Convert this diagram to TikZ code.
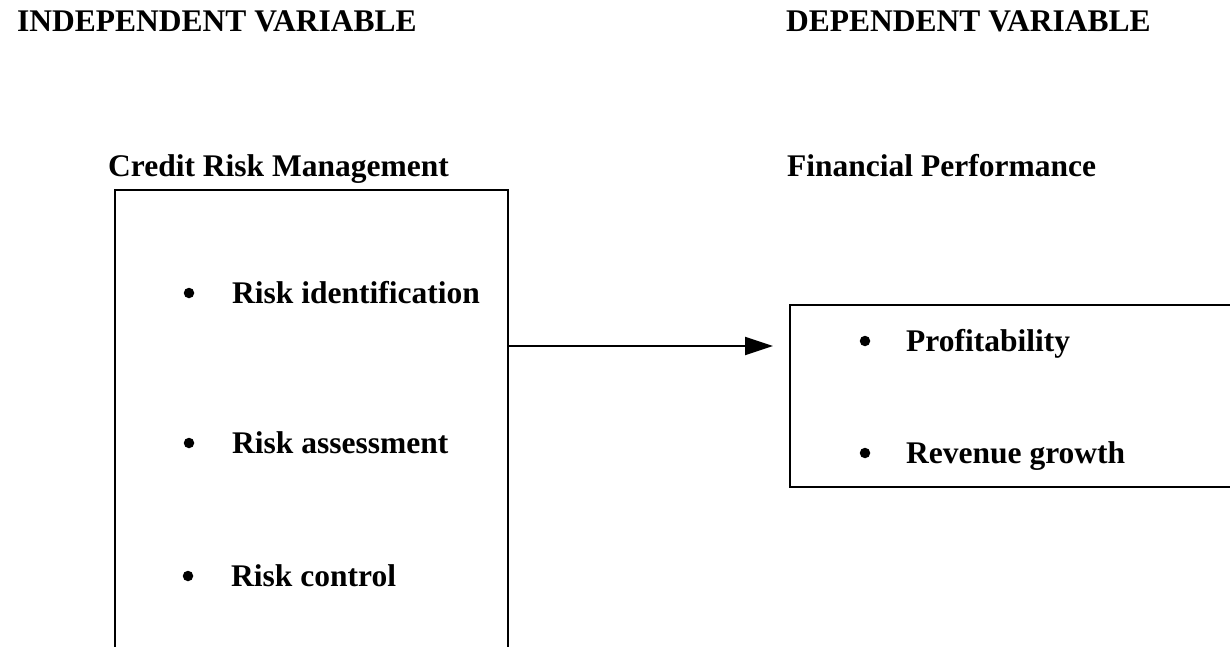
\documentclass[tikz,border=0pt]{standalone}
\usepackage{fontspec}
\setmainfont{Liberation Serif}
\usetikzlibrary{arrows.meta}
\tikzset{
  lbl/.style={anchor=base west, inner sep=0pt, font=\fontsize{31.5}{36}\selectfont\bfseries},
  bul/.style={circle, fill, inner sep=0pt, minimum size=10.5pt},
  box/.style={draw, line width=2pt, anchor=north west, inner sep=0pt},
  link/.style={line width=2.2pt, -{Triangle[length=28pt,width=18pt]}}
}
\begin{document}
\begin{tikzpicture}[x=1pt,y=-1pt]
\useasboundingbox (0,0) rectangle (1230,647);
\clip (0,0) rectangle (1230,647);
\node[lbl] (iv) at (17,32) {INDEPENDENT VARIABLE};
\node[lbl] (dv) at (786,32) {DEPENDENT VARIABLE};
\node[lbl] (crm) at (108,177) {Credit Risk Management};
\node[lbl] (fp) at (787,177) {Financial Performance};
\node[box, minimum width=393pt, minimum height=520pt] (lbox) at (113.5,189) {};
\node[box, minimum width=460pt, minimum height=182pt] (rbox) at (789,304) {};
\node[bul] (b1) at (189,293) {};
\node[lbl] (t1) at (232,303) {Risk identification};
\node[bul] (b2) at (189,443) {};
\node[lbl] (t2) at (232,453) {Risk assessment};
\node[bul] (b3) at (188,576) {};
\node[lbl] (t3) at (231,586) {Risk control};
\node[bul] (b4) at (865,341) {};
\node[lbl] (t4) at (906,351) {Profitability};
\node[bul] (b5) at (865,453) {};
\node[lbl] (t5) at (906,463) {Revenue growth};
\coordinate (astart) at (509,346);
\coordinate (aend) at (773,346);
\draw[link] (astart) -- (aend);
\end{tikzpicture}
\end{document}
